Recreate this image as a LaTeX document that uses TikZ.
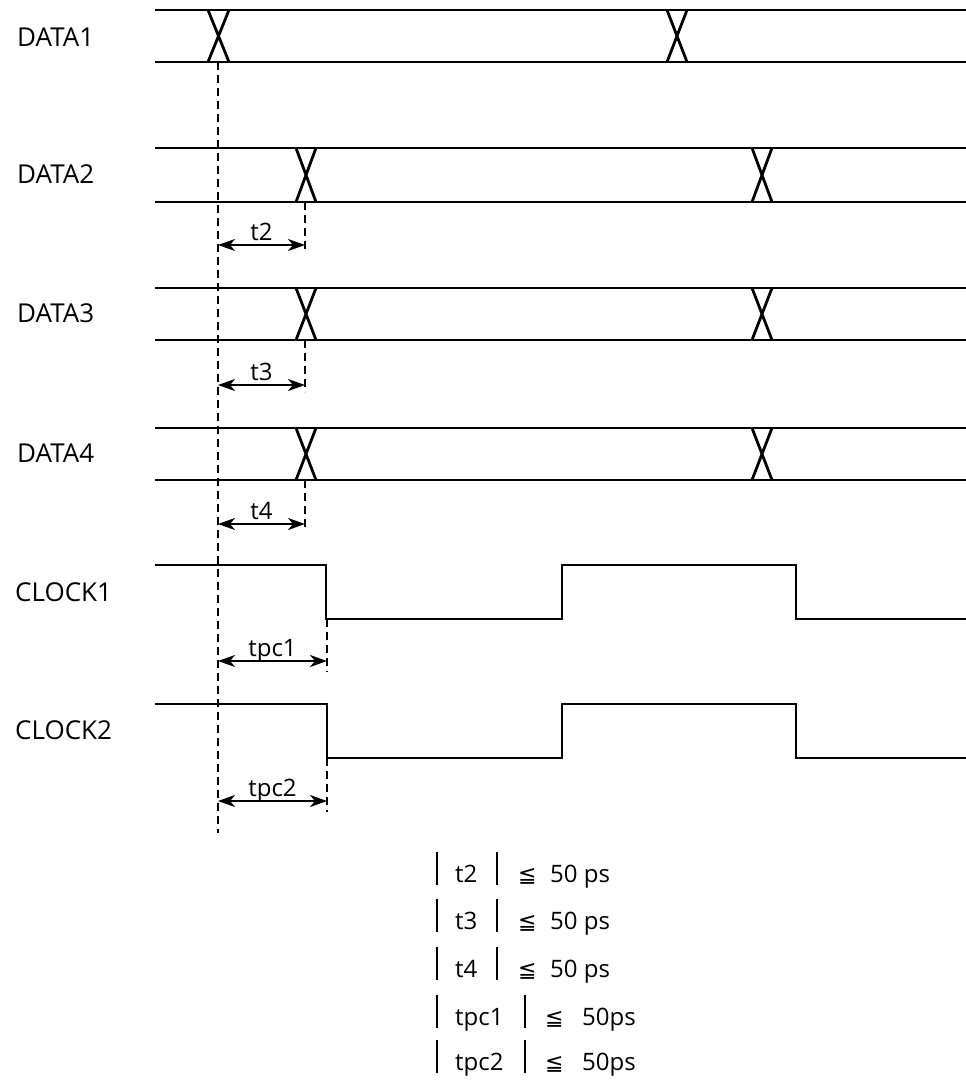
\documentclass[tikz,border=0pt]{standalone}
\usepackage{fontspec}
\setmainfont{Open Sans}
\newfontfamily\symfont{DejaVu Sans}
\usetikzlibrary{arrows.meta}
\tikzset{
  sig/.style={line width=2.8pt, line join=miter},
  guide/.style={line width=2pt, dash pattern=on 8pt off 5pt},
  meas/.style={line width=2.2pt, {Stealth[length=17pt,width=12pt,inset=5pt]}-{Stealth[length=17pt,width=12pt,inset=5pt]}},
  lab/.style={font=\fontsize{26}{28}\selectfont, anchor=west, inner sep=0pt},
  mlab/.style={font=\fontsize{24}{26}\selectfont, inner sep=0pt, anchor=base, yshift=5pt},
  eq/.style={font=\fontsize{24}{26}\selectfont, anchor=base west, inner sep=0pt},
  leq/.style={font=\fontsize{22}{24}\selectfont\symfont, anchor=base west, inner sep=0pt},
  bar/.style={line width=1.3pt}
}
\newcommand\busline[6]{%
  \draw[sig] (155,#1) -- (966,#1);
  \draw[sig] (155,#2) -- (966,#2);
  \draw[sig] (#3,#1) -- (#4,#2) (#3,#2) -- (#4,#1);
  \draw[sig] (#5,#1) -- (#6,#2) (#5,#2) -- (#6,#1);
}
\begin{document}
\begin{tikzpicture}[x=1pt,y=-1pt]
\useasboundingbox (0,0) rectangle (966,1085);
% labels
\node[lab] (d1) at (17,37) {DATA1};
\node[lab] (d2) at (17,174) {DATA2};
\node[lab] (d3) at (17,313) {DATA3};
\node[lab] (d4) at (17,453) {DATA4};
\node[lab] (c1) at (15,592) {CLOCK1};
\node[lab] (c2) at (15,730) {CLOCK2};
% data buses
\busline{10}{62}{208}{229}{667}{687}
\busline{148}{202}{296}{316}{752}{772}
\busline{288}{340}{296}{316}{752}{772}
\busline{428}{480}{296}{316}{752}{772}
% clocks
\draw[sig] (155,565) -- (326,565) -- (326,619) -- (562,619) -- (562,565) -- (796,565) -- (796,619) -- (966,619);
\draw[sig] (155,704) -- (327,704) -- (327,758) -- (562,758) -- (562,704) -- (796,704) -- (796,758) -- (966,758);
% reference dashed line
\coordinate (r0) at (218,62);
\coordinate (r1) at (218,833);
\draw[guide] (r0) -- (r1);
% skew markers
\coordinate (e2a) at (305,202); \coordinate (e2b) at (305,252);
\coordinate (e3a) at (305,340); \coordinate (e3b) at (305,392);
\coordinate (e4a) at (305,480); \coordinate (e4b) at (305,530);
\coordinate (e5a) at (327,619); \coordinate (e5b) at (327,672);
\coordinate (e6a) at (327,758); \coordinate (e6b) at (327,812);
\foreach \a/\b in {e2a/e2b,e3a/e3b,e4a/e4b,e5a/e5b,e6a/e6b} \draw[guide] (\a) -- (\b);
\coordinate (s2) at (218,245); \coordinate (f2) at (305,245);
\coordinate (s3) at (218,385); \coordinate (f3) at (305,385);
\coordinate (s4) at (218,524); \coordinate (f4) at (305,524);
\coordinate (s5) at (218,661); \coordinate (f5) at (327,661);
\coordinate (s6) at (218,801); \coordinate (f6) at (327,801);
\draw[meas] (s2) -- node[mlab] (l2) {t2} (f2);
\draw[meas] (s3) -- node[mlab] (l3) {t3} (f3);
\draw[meas] (s4) -- node[mlab] (l4) {t4} (f4);
\draw[meas] (s5) -- node[mlab] (l5) {tpc1} (f5);
\draw[meas] (s6) -- node[mlab] (l6) {tpc2} (f6);
% conditions
\foreach \n/\y/\lbl/\bx/\lx/\vx/\val in {1/882/t2/497/518/550/50 ps, 2/929/t3/497/518/550/50 ps, 3/977/t4/497/518/550/50 ps, 4/1025/tpc1/525/545/582/50ps, 5/1070/tpc2/525/545/582/50ps}{
  \draw[bar] (437,\y-30) -- (437,\y+3);
  \draw[bar] (\bx,\y-30) -- (\bx,\y+3);
  \node[eq] (q\n) at (455,\y) {\lbl};
  \node[leq] (le\n) at (\lx,\y) {≦};
  \node[eq] (v\n) at (\vx,\y) {\val};
}
\end{tikzpicture}
\end{document}
